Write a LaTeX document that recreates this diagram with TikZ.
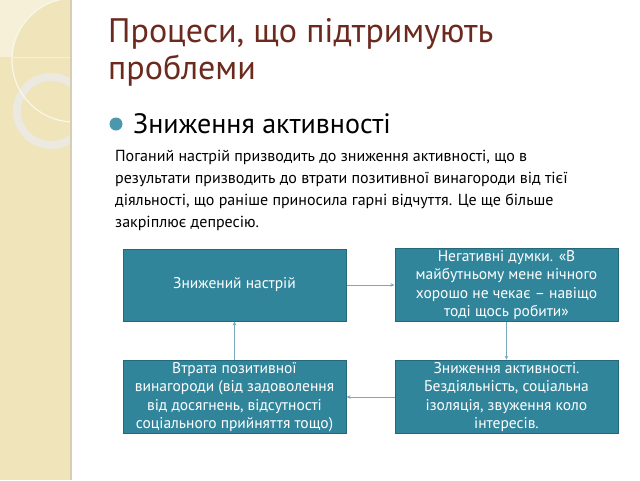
\documentclass[tikz,border=0pt]{standalone}
\usepackage{fontspec}
\setmainfont{PT Sans}
\usetikzlibrary{arrows.meta}

\definecolor{panel}{RGB}{239,228,186}
\definecolor{panellight}{RGB}{247,240,216}
\definecolor{panelrule}{RGB}{214,205,178}
\definecolor{ringgray}{RGB}{236,233,224}
\definecolor{titlered}{RGB}{108,42,30}
\definecolor{boxteal}{RGB}{49,133,155}
\definecolor{boxedge}{RGB}{36,104,122}
\definecolor{linkblue}{RGB}{120,168,186}
\definecolor{dotteal}{RGB}{75,152,172}

\tikzset{
  stage/.style={draw=boxedge, line width=1pt, fill=boxteal, text=white,
    minimum width=223pt, minimum height=72pt, align=center, inner sep=2pt,
    font=\fontsize{15.5}{18.5}\selectfont},
  link/.style={draw=linkblue, line width=0.8pt, -{Stealth[length=4pt,width=3.5pt]}},
}

\begin{document}
\begin{tikzpicture}[x=1pt,y=-1pt]
  \useasboundingbox (0,0) rectangle (640,480);
  \fill[white] (0,0) rectangle (640,480);

  % left panel
  \fill[panel] (0,0) rectangle (70,480);
  \begin{scope}
    \clip (0,0) rectangle (70,57);
    \fill[panellight, even odd rule] (0,0) rectangle (70,57) (74,60) circle (62);
  \end{scope}
  \begin{scope}
    \clip (0,0) rectangle (70,480);
    \draw[ringgray, line width=8pt] (51,111) circle (34);
    \draw[white!70!panel, line width=1.2pt] (74,60) circle (62);
  \end{scope}
  \draw[panelrule, line width=2pt] (71,0) -- (71,480);

  % heading
  \node[anchor=base west, inner sep=0, text=titlered, font=\fontsize{34}{38}\selectfont]
    (title1) at (108,42) {Процеси, що підтримують};
  \node[anchor=base west, inner sep=0, text=titlered, font=\fontsize{34}{38}\selectfont]
    (title2) at (108,79) {проблеми};

  \fill[dotteal] (116,124) circle (6.5);
  \node[anchor=base west, inner sep=0, font=\fontsize{28}{32}\selectfont]
    (point) at (133,133) {Зниження активності};

  \node[anchor=north west, inner sep=0, align=left, font=\fontsize{16}{22}\selectfont]
    (story) at (115,150) {Поганий настрій призводить до зниження активності, що в\\
    результати призводить до втрати позитивної винагороди від тієї\\
    діяльності, що раніше приносила гарні відчуття. Це ще більше\\
    закріплює депресію.};

  % cycle
  \node[stage] (mood) at (234.5,285) {Знижений настрій};
  \node[stage] (thoughts) at (506.5,285) {Негативні думки. «В\\майбутньому мене нічного\\хорошо не чекає – навіщо\\тоді щось робити»};
  \node[stage] (activity) at (506.5,397) {Зниження активності.\\Бездіяльність, соціальна\\ізоляція, звуження коло\\інтересів.};
  \node[stage] (loss) at (234.5,397) {Втрата позитивної\\винагороди (від задоволення\\від досягнень, відсутності\\соціального прийняття тощо)};

  \draw[link] (mood) -- (thoughts);
  \draw[link] (thoughts) -- (activity);
  \draw[link] (activity) -- (loss);
  \draw[link] (loss) -- (mood);
\end{tikzpicture}
\end{document}
